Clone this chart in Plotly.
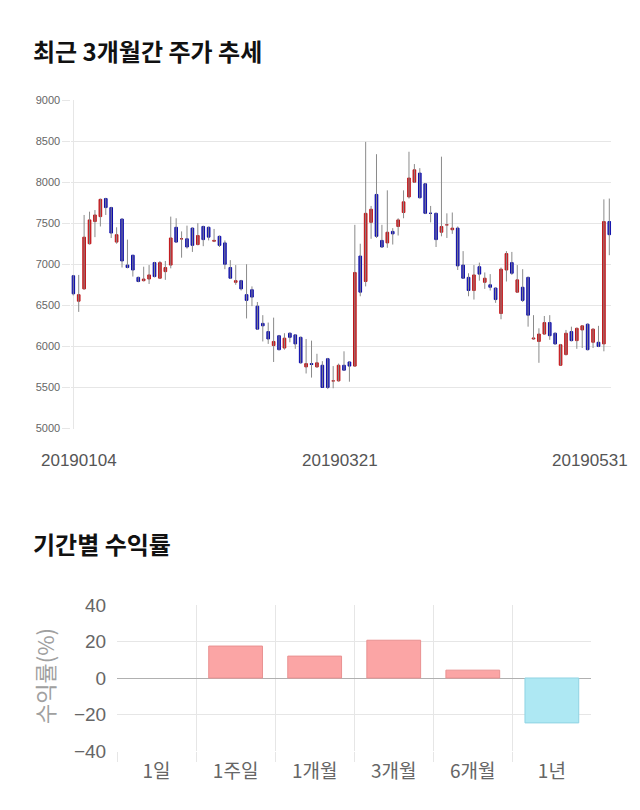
import plotly.graph_objects as go

# ---------------- data ----------------
dates = [
    "20190104", "20190107", "20190108", "20190109", "20190110", "20190111",
    "20190114", "20190115", "20190116", "20190117", "20190118",
    "20190121", "20190122", "20190123", "20190124", "20190125",
    "20190128", "20190129", "20190130", "20190131",
    "20190201", "20190207", "20190208",
    "20190211", "20190212", "20190213", "20190214", "20190215",
    "20190218", "20190219", "20190220", "20190221", "20190222",
    "20190225", "20190226", "20190227", "20190228",
    "20190304", "20190305", "20190306", "20190307", "20190308",
    "20190311", "20190312", "20190313", "20190314", "20190315",
    "20190318", "20190319", "20190320", "20190321", "20190322",
    "20190325", "20190326", "20190327", "20190328", "20190329",
    "20190401", "20190402", "20190403", "20190404", "20190405",
    "20190408", "20190409", "20190410", "20190411", "20190412",
    "20190415", "20190416", "20190417", "20190418", "20190419",
    "20190422", "20190423", "20190424", "20190425", "20190426",
    "20190429", "20190430",
    "20190502", "20190503",
    "20190507", "20190508", "20190509", "20190510",
    "20190513", "20190514", "20190515", "20190516", "20190517",
    "20190520", "20190521", "20190522", "20190523", "20190524",
    "20190527", "20190528", "20190529", "20190530", "20190531",
]

opens = [
    6860, 6550, 6700, 7250, 7520, 7580, 7800, 7690, 7270, 7550,
    6990, 7110, 6840, 6800, 6820, 7020, 6830, 6910, 6990, 7450,
    7310, 7310, 7440, 7240, 7460, 7450, 7280, 7340, 7260, 6960,
    6780, 6800, 6630, 6690, 6490, 6280, 6180, 6010, 6130, 5980,
    6160, 6140, 6110, 5750, 5790, 5750, 5770, 5850, 5580, 5580,
    5770, 5810, 5760, 7100, 6790, 7510, 7850, 7290, 7260, 7400,
    7460, 7630, 7820, 8000, 8110, 7980, 7620, 7620, 7390, 7480,
    7420, 7440, 6990, 6840, 6680, 6970, 6780, 6750, 6710, 6400,
    6930, 7020, 6660, 6720, 6840, 6090, 6060, 6150, 6290, 6160,
    5770, 5900, 6180, 6070, 6200, 6270, 6050, 6050, 6030, 7520,
]
highs = [
    6870, 6870, 7600, 7640, 7660, 7800, 7810, 7700, 7450, 7560,
    7300, 7110, 6850, 6970, 6990, 7030, 7040, 7040, 7580, 7560,
    7400, 7470, 7450, 7500, 7470, 7460, 7430, 7350, 7290, 7050,
    6990, 6810, 7000, 6730, 6540, 6380, 6290, 6350, 6140, 6160,
    6170, 6150, 6120, 6090, 6070, 5910, 5820, 5860, 5760, 5790,
    5940, 5820, 7480, 7250, 8490, 7710, 8340, 7480, 7900, 7440,
    7560, 7900, 8370, 8220, 8170, 7990, 7710, 7630, 8310, 7620,
    7630, 7460, 7160, 6890, 6990, 7020, 6900, 6880, 6720, 6960,
    7160, 7150, 6990, 6940, 6850, 6380, 6220, 6370, 6380, 6170,
    6030, 6200, 6240, 6230, 6260, 6280, 6220, 6250, 7790, 7800,
]
lows = [
    6620, 6420, 6690, 7240, 7330, 7460, 7600, 7320, 7250, 6960,
    6950, 6850, 6780, 6790, 6760, 6840, 6820, 6810, 6950, 7260,
    7080, 7190, 7150, 7230, 7220, 7290, 7270, 7210, 6940, 6820,
    6750, 6680, 6340, 6490, 6200, 6060, 6030, 5810, 5950, 5960,
    6050, 5970, 5790, 5670, 5620, 5740, 5500, 5480, 5490, 5570,
    5700, 5570, 5750, 6610, 6730, 7310, 7320, 7200, 7200, 7240,
    7350, 7560, 7800, 7990, 7800, 7610, 7510, 7210, 7340, 7320,
    7370, 6930, 6820, 6610, 6570, 6800, 6700, 6680, 6530, 6330,
    6790, 6870, 6650, 6540, 6240, 6080, 5800, 6140, 6080, 6020,
    5770, 5890, 6060, 5970, 5980, 5950, 5980, 5990, 5940, 7110,
]
closes = [
    6640, 6630, 7330, 7540, 7600, 7790, 7690, 7380, 7360, 7040,
    6960, 6930, 6790, 6820, 6870, 6850, 7020, 6960, 7320, 7270,
    7310, 7210, 7230, 7350, 7300, 7330, 7290, 7230, 7000, 6830,
    6800, 6700, 6560, 6600, 6210, 6250, 6090, 6060, 5960, 6100,
    6110, 6030, 5800, 5790, 5780, 5800, 5500, 5500, 5580, 5770,
    5710, 5760, 6900, 6660, 7620, 7670, 7340, 7210, 7390, 7370,
    7540, 7760, 8050, 8150, 7810, 7620, 7620, 7300, 7460, 7480,
    7440, 6980, 6830, 6680, 6870, 6880, 6830, 6720, 6570, 6940,
    7130, 6890, 6810, 6560, 6380, 6100, 6150, 6290, 6130, 6030,
    6020, 6160, 6070, 6220, 6250, 5960, 6210, 6000, 7520, 7360,
]

price_ticks = [5000, 5500, 6000, 6500, 7000, 7500, 8000, 8500, 9000]
date_tick_labels = ["20190104", "20190321", "20190531"]

period_labels = ["1일", "1주일", "1개월", "3개월", "6개월", "1년"]
period_returns = [0.0, 17.5, 12.0, 20.7, 4.3, -24.6]
return_ticks = [-40, -20, 0, 20, 40]

# ---------------- figure ----------------
W, H = 640, 810
NUM_FONT = "Liberation Sans, Arial, Noto Sans CJK KR"
KR_FONT = "Noto Sans CJK KR, Liberation Sans"

idx = list(range(len(dates)))

# wicks (high-low) drawn from the data arrays
wx, wy = [], []
for i, lo, hi in zip(idx, lows, highs):
    wx += [i, i, None]
    wy += [lo, hi, None]

fig = go.Figure()
fig.add_trace(go.Scatter(
    x=wx, y=wy, mode="lines", line=dict(color="#8a8a8a", width=1),
    hoverinfo="skip", showlegend=False, xaxis="x", yaxis="y",
))
fig.add_trace(go.Candlestick(
    x=idx, open=opens, close=closes,
    high=[max(o, c) for o, c in zip(opens, closes)],
    low=[min(o, c) for o, c in zip(opens, closes)],
    increasing=dict(fillcolor="#d7171b", line=dict(color="#c01418", width=1)),
    decreasing=dict(fillcolor="#1212c6", line=dict(color="#0c0ca8", width=1)),
    whiskerwidth=0, showlegend=False, hoverinfo="skip",
    xaxis="x", yaxis="y",
))

bar_fill = ["#fba5a5" if v >= 0 else "#aee8f3" for v in period_returns]
bar_line = ["#e99191" if v >= 0 else "#8fd3e3" for v in period_returns]
bar_lw = [0 if v == 0 else 1 for v in period_returns]
fig.add_trace(go.Bar(
    x=period_labels, y=period_returns,
    marker=dict(color=bar_fill, line=dict(color=bar_line, width=bar_lw)),
    width=0.68, showlegend=False, hoverinfo="skip",
    xaxis="x2", yaxis="y2",
))

GRID = "#e6e6e6"
fig.update_layout(
    width=W, height=H, autosize=False,
    margin=dict(l=0, r=0, t=0, b=0, pad=0),
    paper_bgcolor="white", plot_bgcolor="white",
    boxgap=0.3,
    xaxis=dict(
        domain=[71.4 / W, 611.2 / W], range=[-0.35, len(dates) - 1 + 0.35],
        showgrid=False, zeroline=True, zerolinecolor=GRID, zerolinewidth=1,
        showticklabels=False, ticks="", rangeslider=dict(visible=False),
        automargin=False, anchor="y",
    ),
    yaxis=dict(
        domain=[1 - 428.5 / H, 1 - 100 / H], range=[5000, 9000],
        tickvals=price_ticks, showgrid=True, gridcolor=GRID, gridwidth=1,
        zeroline=False, ticks="outside", ticklen=8, tickcolor=GRID,
        tickfont=dict(family=NUM_FONT, size=11, color="#666"),
        automargin=False, anchor="x",
    ),
    xaxis2=dict(
        domain=[117 / W, 591 / W], type="category", range=[-0.5, 5.495],
        tickson="boundaries", showgrid=True, gridcolor=GRID, gridwidth=1,
        ticks="outside", ticklen=10, tickcolor=GRID, ticklabelstandoff=7,
        tickfont=dict(family=KR_FONT, size=19, color="#666"),
        anchor="y2", zeroline=False, automargin=False,
    ),
    yaxis2=dict(
        domain=[1 - 751 / H, 1 - 605 / H], range=[-40, 40],
        tickvals=return_ticks, showgrid=True, gridcolor=GRID, gridwidth=1,
        zeroline=True, zerolinecolor="#b0b0b0", zerolinewidth=1,
        ticks="outside", ticklen=6, tickcolor="rgba(0,0,0,0)",
        tickfont=dict(family=NUM_FONT, size=19, color="#666"),
        anchor="x2", automargin=False,
    ),
)

annotations = [
    dict(text="<b>최근 3개월간 주가 추세</b>", xref="paper", yref="paper",
         x=31 / W, y=1 - 50 / H, xanchor="left", yanchor="middle",
         showarrow=False, font=dict(family=KR_FONT, size=24, color="#111")),
    dict(text="<b>기간별 수익률</b>", xref="paper", yref="paper",
         x=31 / W, y=1 - 543 / H, xanchor="left", yanchor="middle",
         showarrow=False, font=dict(family=KR_FONT, size=24, color="#111")),
    dict(text="수익률(%)", xref="paper", yref="paper", textangle=-90,
         x=44 / W, y=1 - 676 / H, xanchor="center", yanchor="middle",
         showarrow=False, font=dict(family=KR_FONT, size=22, color="#a0a0a0")),
]
shifts = [6, -4, -19]
for lab, sh in zip(date_tick_labels, shifts):
    annotations.append(dict(
        text=lab, xref="x", yref="paper", x=dates.index(lab), xshift=sh,
        y=1 - 460 / H, xanchor="center", yanchor="middle", showarrow=False,
        font=dict(family=NUM_FONT, size=17, color="#555"),
    ))
fig.update_layout(annotations=annotations)

fig.write_html("out.html")
